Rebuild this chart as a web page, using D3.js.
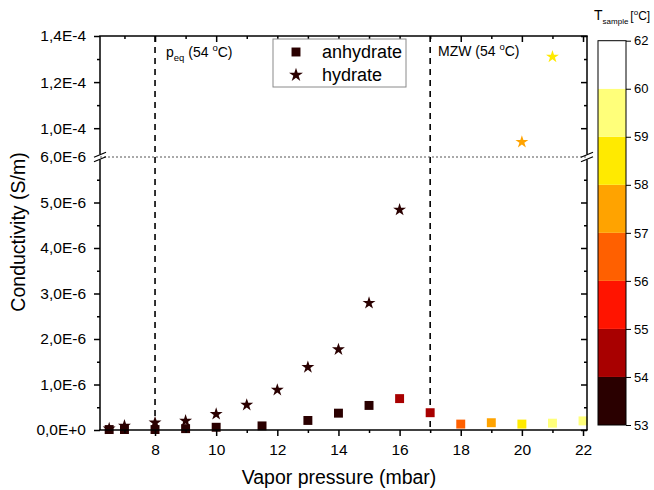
<!DOCTYPE html>
<html><head><meta charset="utf-8">
<script src="https://cdn.jsdelivr.net/npm/d3@7"></script>
<style>body{margin:0;background:#fff} svg{display:block} text{font-family:"Liberation Sans",Arial,sans-serif;fill:#000}</style>
</head><body><svg id="c" width="654" height="490"></svg>
<script>
// ---- data ----
const anhydrateP = [6.5, 7, 8, 9, 10, 11.5, 13, 14, 15, 16, 17, 18, 19, 20, 21, 22];
const anhydrateC = [0.01e-6, 0.01e-6, 0.01e-6, 0.03e-6, 0.06e-6, 0.09e-6, 0.21e-6, 0.37e-6, 0.54e-6, 0.69e-6, 0.38e-6, 0.13e-6, 0.16e-6, 0.13e-6, 0.15e-6, 0.20e-6];
const anhydrateT = [53.5, 53.5, 53.5, 53.5, 53.5, 53.5, 53.5, 53.5, 53.5, 54.5, 54.5, 56.5, 57.5, 58.5, 59.5, 59.5];
const hydrateP = [6.5, 7, 8, 9, 10, 11, 12, 13, 14, 15, 16, 20, 21];
const hydrateC = [0.03e-6, 0.09e-6, 0.16e-6, 0.20e-6, 0.35e-6, 0.55e-6, 0.88e-6, 1.38e-6, 1.77e-6, 2.79e-6, 4.84e-6, 9.4e-5, 1.31e-4];
const hydrateT = [53.5, 53.5, 53.5, 53.5, 53.5, 53.5, 53.5, 53.5, 53.5, 53.5, 53.5, 57.5, 58.5];
const xMajor = [8, 10, 12, 14, 16, 18, 20, 22];
const xMinor = [7, 9, 11, 13, 15, 17, 19, 21];
const yLowMajor = [0, 1e-6, 2e-6, 3e-6, 4e-6, 5e-6, 6e-6];
const yLowLabels = ["0,0E+0", "1,0E-6", "2,0E-6", "3,0E-6", "4,0E-6", "5,0E-6", "6,0E-6"];
const yLowMinor = [0.5e-6, 1.5e-6, 2.5e-6, 3.5e-6, 4.5e-6, 5.5e-6];
const yHighMajor = [1.0e-4, 1.2e-4, 1.4e-4];
const yHighLabels = ["1,0E-4", "1,2E-4", "1,4E-4"];
const yHighMinor = [1.1e-4, 1.3e-4];
const refLines = [8, 17];
const colorLevels = [53, 54, 55, 56, 57, 58, 59, 60, 62];
const colorBands = ["#2a0000", "#a80000", "#ff1400", "#ff6000", "#ffa300", "#ffea00", "#ffff7a", "#ffffff"];
const breakValue = 6e-6;

// ---- layout ----
const svg = d3.select("#c");
const L = 100, R = 587, T = 36, B = 430, YB = 157;
const x = d3.scaleLinear().domain([6.2, 22.13]).range([L, R]);
const yLow = d3.scaleLinear().domain([0, breakValue]).range([B, YB]);
const yHigh = d3.scaleLinear().domain([8.75e-5, 1.4e-4]).range([YB, T]);
const y = v => v <= breakValue ? yLow(v) : yHigh(v);
const color = d3.scaleThreshold().domain(colorLevels.slice(1, 8)).range(colorBands);
const tickFont = "15.5px";

// reference lines
svg.selectAll(".ref").data(refLines).join("line")
  .attr("x1", d => x(d)).attr("x2", d => x(d)).attr("y1", T).attr("y2", B)
  .attr("stroke", "#000").attr("stroke-width", 1.6).attr("stroke-dasharray", "6,5");
// break dotted line
svg.append("line").attr("x1", L).attr("x2", R).attr("y1", YB).attr("y2", YB)
  .attr("stroke", "#555").attr("stroke-width", 1).attr("stroke-dasharray", "2,2");

// markers
const anh = anhydrateP.map((p, i) => ({p, c: anhydrateC[i], t: anhydrateT[i]}));
const hyd = hydrateP.map((p, i) => ({p, c: hydrateC[i], t: hydrateT[i]}));
svg.append("g").selectAll("path").data(anh).join("path")
  .attr("d", d3.symbol(d3.symbolSquare, 80))
  .attr("transform", d => `translate(${x(d.p)},${y(d.c)})`)
  .attr("fill", d => color(d.t));
svg.append("g").selectAll("path").data(hyd).join("path")
  .attr("d", d3.symbol(d3.symbolStar, 52))
  .attr("transform", d => `translate(${x(d.p)},${y(d.c)})`)
  .attr("fill", d => color(d.t));

// axes
function styleAxis(g) {
  g.select(".domain").remove();
  g.selectAll(".tick line").attr("stroke", "#000").attr("stroke-width", 1.5);
  g.selectAll(".tick text").style("font-size", tickFont);
}
const noLab = () => "";
svg.append("g").attr("transform", `translate(0,${B})`)
  .call(d3.axisBottom(x).tickValues(xMajor).tickSize(6).tickPadding(8).tickFormat(d3.format("d"))).call(styleAxis);
svg.append("g").attr("transform", `translate(0,${B})`)
  .call(d3.axisBottom(x).tickValues(xMinor).tickSize(3).tickFormat(noLab)).call(styleAxis);
svg.append("g").attr("transform", `translate(0,${T})`)
  .call(d3.axisTop(x).tickValues(xMajor).tickSize(-6).tickFormat(noLab)).call(styleAxis);
svg.append("g").attr("transform", `translate(0,${T})`)
  .call(d3.axisTop(x).tickValues(xMinor).tickSize(-3).tickFormat(noLab)).call(styleAxis);

svg.append("g").attr("transform", `translate(${L},0)`)
  .call(d3.axisLeft(yLow).tickValues(yLowMajor).tickSize(6).tickPadding(8).tickFormat((d, i) => yLowLabels[i])).call(styleAxis);
svg.append("g").attr("transform", `translate(${L},0)`)
  .call(d3.axisLeft(yLow).tickValues(yLowMinor).tickSize(3).tickFormat(noLab)).call(styleAxis);
svg.append("g").attr("transform", `translate(${L},0)`)
  .call(d3.axisLeft(yHigh).tickValues(yHighMajor).tickSize(6).tickPadding(8).tickFormat((d, i) => yHighLabels[i])).call(styleAxis);
svg.append("g").attr("transform", `translate(${L},0)`)
  .call(d3.axisLeft(yHigh).tickValues(yHighMinor).tickSize(3).tickFormat(noLab)).call(styleAxis);
svg.append("g").attr("transform", `translate(${R},0)`)
  .call(d3.axisRight(yLow).tickValues(yLowMajor.slice(0, 6)).tickSize(-6).tickFormat(noLab)).call(styleAxis);
svg.append("g").attr("transform", `translate(${R},0)`)
  .call(d3.axisRight(yLow).tickValues(yLowMinor).tickSize(-3).tickFormat(noLab)).call(styleAxis);
svg.append("g").attr("transform", `translate(${R},0)`)
  .call(d3.axisRight(yHigh).tickValues(yHighMajor).tickSize(-6).tickFormat(noLab)).call(styleAxis);
svg.append("g").attr("transform", `translate(${R},0)`)
  .call(d3.axisRight(yHigh).tickValues(yHighMinor).tickSize(-3).tickFormat(noLab)).call(styleAxis);
// hide 6E-6 tick line at break (symbol replaces it)
svg.selectAll(".tick").filter(d => d === breakValue).select("line").remove();

// frame with breaks
const frame = svg.append("g").attr("stroke", "#000").attr("stroke-width", 1.5).attr("fill", "none");
frame.append("line").attr("x1", L - 0.75).attr("x2", R + 0.75).attr("y1", B).attr("y2", B);
frame.append("line").attr("x1", L - 0.75).attr("x2", R + 0.75).attr("y1", T).attr("y2", T);
[L, R].forEach(xx => {
  frame.append("line").attr("x1", xx).attr("x2", xx).attr("y1", T).attr("y2", YB - 2.5);
  frame.append("line").attr("x1", xx).attr("x2", xx).attr("y1", YB + 2.5).attr("y2", B);
  [-2.2, 2.2].forEach(o => {
    frame.append("line").attr("x1", xx - 6).attr("x2", xx + 6)
      .attr("y1", YB + o + 2.5).attr("y2", YB + o - 2.5).attr("stroke-width", 1.2);
  });
});

// axis titles
svg.append("text").attr("x", 339).attr("y", 484).attr("text-anchor", "middle")
  .style("font-size", "19.5px").text("Vapor pressure (mbar)");
svg.append("text").attr("transform", "translate(25,232) rotate(-90)").attr("text-anchor", "middle")
  .style("font-size", "19.5px").text("Conductivity (S/m)");

// annotations
function degText(xx, yy, parts) {
  const t = svg.append("text").attr("x", xx).attr("y", yy).style("font-size", "14px");
  parts.forEach(([s, dy, fs]) => t.append("tspan").attr("dy", dy).style("font-size", fs).text(s));
}
degText(166, 57, [["p", 0, "14px"], ["eq", 4, "9.5px"], [" (54 ", -4, "14px"], ["o", -6, "9.5px"], ["C)", 6, "14px"]]);
degText(438, 56, [["MZW (54 ", 0, "14px"], ["o", -6, "9.5px"], ["C)", 6, "14px"]]);

// legend
const lg = svg.append("g");
lg.append("rect").attr("x", 273).attr("y", 39).attr("width", 133).attr("height", 48)
  .attr("fill", "#fff").attr("stroke", "#8a8a8a").attr("stroke-width", 1);
lg.append("path").attr("d", d3.symbol(d3.symbolSquare, 80)).attr("transform", "translate(296,52)").attr("fill", colorBands[0]);
lg.append("path").attr("d", d3.symbol(d3.symbolStar, 60)).attr("transform", "translate(296,75)").attr("fill", colorBands[0]);
lg.append("text").attr("x", 322).attr("y", 58).style("font-size", "18px").text("anhydrate");
lg.append("text").attr("x", 322).attr("y", 81).style("font-size", "18px").text("hydrate");

// colour bar
const cbX = 598, cbW = 28;
const cb = d3.scaleLinear().domain([0, colorBands.length]).range([425, 40.7]);
svg.append("g").selectAll("rect").data(colorBands).join("rect")
  .attr("x", cbX).attr("width", cbW)
  .attr("y", (d, i) => cb(i + 1)).attr("height", (d, i) => cb(i) - cb(i + 1))
  .attr("fill", d => d);
svg.append("rect").attr("x", cbX).attr("y", cb(colorBands.length)).attr("width", cbW)
  .attr("height", cb(0) - cb(colorBands.length)).attr("fill", "none").attr("stroke", "#000").attr("stroke-width", 1);
const cbAxis = svg.append("g").attr("transform", `translate(${cbX + cbW},0)`)
  .call(d3.axisRight(cb).tickValues(d3.range(colorLevels.length)).tickSize(5).tickPadding(3)
    .tickFormat(i => colorLevels[i]));
cbAxis.select(".domain").remove();
cbAxis.selectAll(".tick line").attr("stroke", "#000").attr("stroke-width", 1);
cbAxis.selectAll(".tick text").style("font-size", "13px");
const tt = svg.append("text").attr("x", 594).attr("y", 20).style("font-size", "14px");
tt.append("tspan").text("T");
tt.append("tspan").attr("dy", 4).style("font-size", "8px").text("sample");
tt.append("tspan").attr("dy", -4).attr("dx", 2).style("font-size", "12px").text("[");
tt.append("tspan").attr("dy", -5).style("font-size", "8px").text("o");
tt.append("tspan").attr("dy", 5).style("font-size", "12px").text("C]");
</script>
</body></html>
